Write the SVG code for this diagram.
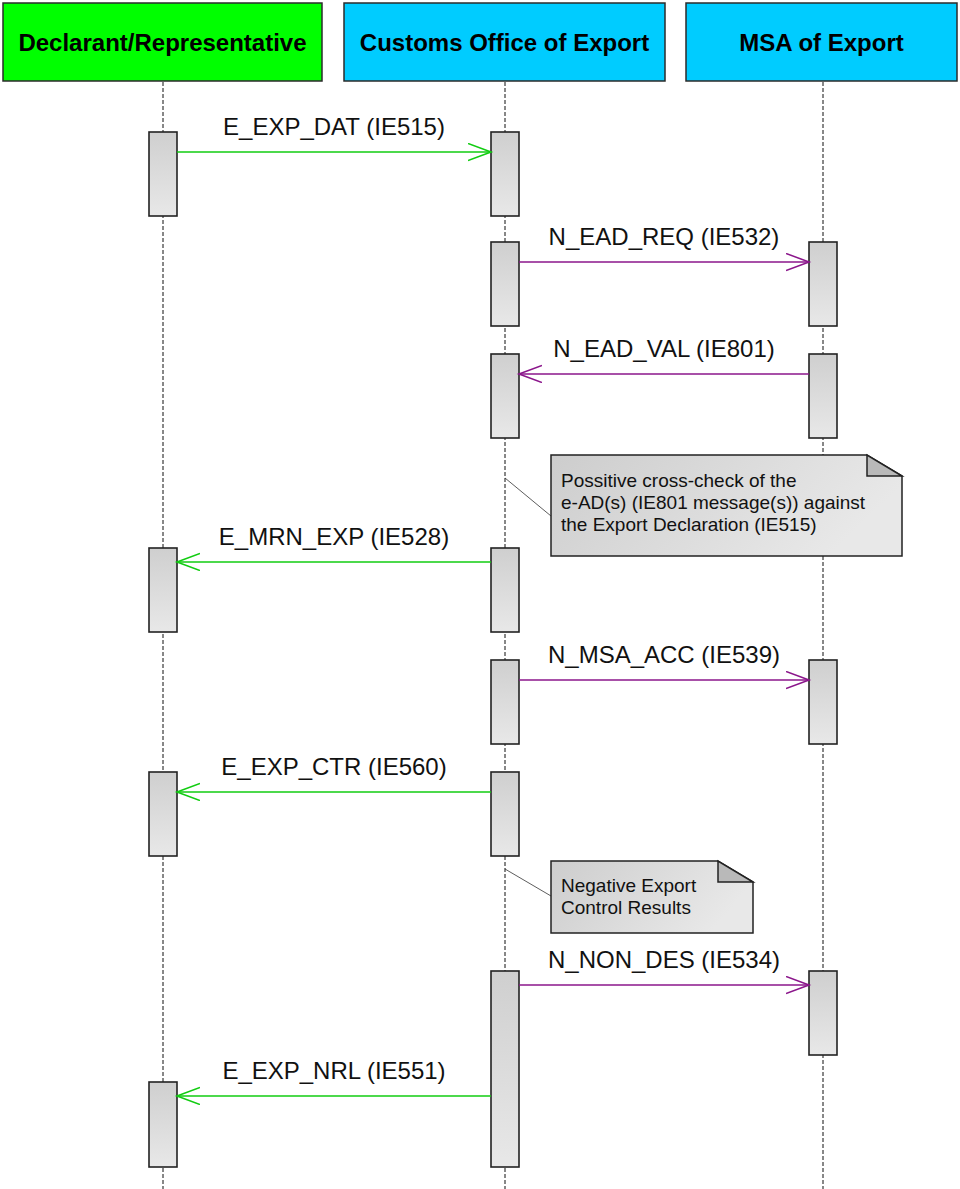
<svg xmlns="http://www.w3.org/2000/svg" width="960" height="1189" viewBox="0 0 960 1189">
<style>
.hdr{stroke:#2b2b2b;stroke-width:1.5}
.htxt{font-family:"Liberation Sans",Arial,sans-serif;font-weight:bold;font-size:24px;fill:#000;text-anchor:middle}
.life{stroke:#111;stroke-width:1;stroke-dasharray:4 2;fill:none}
.act{fill:url(#actg);stroke:#222;stroke-width:1.6}
.lbl{font-family:"Liberation Sans",Arial,sans-serif;font-size:24px;fill:#111;text-anchor:middle}
.g{stroke:#11cc11;stroke-width:1.6;fill:none;marker-end:url(#ag)}
.p{stroke:#8b168b;stroke-width:1.6;fill:none;marker-end:url(#ap)}
.note{fill:url(#noteg);stroke:#222;stroke-width:1.5}
.fold{fill:#b9b9b9;stroke:#222;stroke-width:1.5;stroke-linejoin:miter}
.ntxt{font-family:"Liberation Sans",Arial,sans-serif;font-size:19px;fill:#111}
.nl{stroke:#333;stroke-width:0.8;fill:none}
</style>
<defs>
<linearGradient id="actg" x1="0" y1="0" x2="0" y2="1">
<stop offset="0" stop-color="#cfcfcf"/>
<stop offset="1" stop-color="#e8e8e8"/>
</linearGradient>
<linearGradient id="noteg" x1="0" y1="0" x2="1" y2="0.3">
<stop offset="0" stop-color="#cdcdcd"/>
<stop offset="1" stop-color="#e8e8e8"/>
</linearGradient>
<marker id="ag" markerUnits="userSpaceOnUse" markerWidth="26" markerHeight="20" refX="23" refY="9" orient="auto">
<path d="M0,0.5 L23,9 L0,17.5" fill="none" stroke="#11cc11" stroke-width="1.6"/>
</marker>
<marker id="ap" markerUnits="userSpaceOnUse" markerWidth="26" markerHeight="20" refX="23" refY="9" orient="auto">
<path d="M0,0.5 L23,9 L0,17.5" fill="none" stroke="#8b168b" stroke-width="1.6"/>
</marker>
</defs>
<rect width="960" height="1189" fill="#fff"/>

<g id="lifelines">
<line class="life" x1="163" y1="82" x2="163" y2="1189"/>
<line class="life" x1="505" y1="82" x2="505" y2="1189"/>
<line class="life" x1="823" y1="82" x2="823" y2="1189"/>
</g>

<g id="declarant">
<rect class="hdr" x="3" y="3" width="319" height="78" fill="#00ff00"/>
<text class="htxt" x="162.5" y="51">Declarant/Representative</text>
</g>
<g id="customs">
<rect class="hdr" x="344" y="3" width="321" height="78" fill="#00ccff"/>
<text class="htxt" x="504.5" y="51">Customs Office of Export</text>
</g>
<g id="msa">
<rect class="hdr" x="686" y="3" width="271" height="78" fill="#00ccff"/>
<text class="htxt" x="821.5" y="51">MSA of Export</text>
</g>

<g id="activations">
<rect class="act" x="149" y="132" width="28" height="84"/>
<rect class="act" x="491" y="132" width="28" height="84"/>
<rect class="act" x="491" y="242" width="28" height="84"/>
<rect class="act" x="809" y="242" width="28" height="84"/>
<rect class="act" x="491" y="354" width="28" height="84"/>
<rect class="act" x="809" y="354" width="28" height="84"/>
<rect class="act" x="149" y="548" width="28" height="84"/>
<rect class="act" x="491" y="548" width="28" height="84"/>
<rect class="act" x="491" y="660" width="28" height="84"/>
<rect class="act" x="809" y="660" width="28" height="84"/>
<rect class="act" x="149" y="772" width="28" height="84"/>
<rect class="act" x="491" y="772" width="28" height="84"/>
<rect class="act" x="491" y="971" width="28" height="196"/>
<rect class="act" x="809" y="971" width="28" height="84"/>
<rect class="act" x="149" y="1082" width="28" height="85"/>
</g>

<g id="connectors">
<line class="g" x1="177" y1="152" x2="491" y2="152"/>
<line class="p" x1="519" y1="262" x2="809" y2="262"/>
<line class="p" x1="809" y1="374" x2="519" y2="374"/>
<line class="g" x1="491" y1="562" x2="177" y2="562"/>
<line class="p" x1="519" y1="680" x2="809" y2="680"/>
<line class="g" x1="491" y1="792" x2="177" y2="792"/>
<line class="p" x1="519" y1="985" x2="809" y2="985"/>
<line class="g" x1="491" y1="1096" x2="177" y2="1096"/>
<line class="nl" x1="505" y1="478" x2="551" y2="516"/>
<line class="nl" x1="505" y1="869" x2="551" y2="896"/>
</g>

<g id="labels">
<text class="lbl" x="334" y="135">E_EXP_DAT (IE515)</text>
<text class="lbl" x="664" y="245">N_EAD_REQ (IE532)</text>
<text class="lbl" x="664" y="357">N_EAD_VAL (IE801)</text>
<text class="lbl" x="334" y="545">E_MRN_EXP (IE528)</text>
<text class="lbl" x="664" y="663">N_MSA_ACC (IE539)</text>
<text class="lbl" x="334" y="775">E_EXP_CTR (IE560)</text>
<text class="lbl" x="664" y="968">N_NON_DES (IE534)</text>
<text class="lbl" x="334" y="1079">E_EXP_NRL (IE551)</text>
</g>

<g id="note1">
<path class="note" d="M551,455 H867 L902,476 V556 H551 Z"/>
<path class="fold" d="M867,455 V476 H902 Z"/>
<text class="ntxt" x="561" y="487">Possitive cross-check of the</text>
<text class="ntxt" x="561" y="509">e-AD(s) (IE801 message(s)) against</text>
<text class="ntxt" x="561" y="531">the Export Declaration (IE515)</text>
</g>

<g id="note2">
<path class="note" d="M551,861 H718 L753,882 V933 H551 Z"/>
<path class="fold" d="M718,861 V882 H753 Z"/>
<text class="ntxt" x="561" y="892">Negative Export</text>
<text class="ntxt" x="561" y="914">Control Results</text>
</g>
</svg>
